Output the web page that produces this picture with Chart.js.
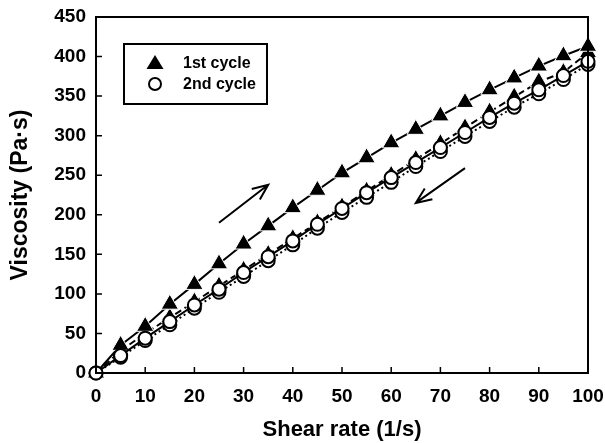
<!DOCTYPE html>
<html>
<head>
<meta charset="utf-8">
<script src="https://cdn.jsdelivr.net/npm/chart.js@4/dist/chart.umd.min.js"></script>
<style>
  html, body { margin: 0; padding: 0; background: #fff; }
  #wrap { width: 605px; height: 443px; }
</style>
</head>
<body>
<div id="wrap"><canvas id="plot" width="605" height="443"></canvas></div>
<script>
const shearRate = [0, 5, 10, 15, 20, 25, 30, 35, 40, 45, 50, 55, 60, 65, 70, 75, 80, 85, 90, 95, 100];
const cycle1Up = [0, 35, 59, 87, 112, 138, 163, 186, 209, 231, 253, 272, 291, 308, 325, 342, 358, 373, 388, 401, 413];
const cycle1Down = [0, 28, 50, 70, 90, 110, 130, 150, 170, 190, 210, 230, 250, 270, 290, 310, 330, 349, 368, 380, 405];
const cycle2Up = [0, 22, 44, 65, 86, 106, 127, 147, 167, 188, 208, 228, 247, 266, 285, 304, 323, 341, 358, 376, 394];
const cycle2Down = [0, 20, 41, 61, 82, 102, 122, 142, 162, 183, 203, 222, 241, 261, 280, 299, 318, 336, 353, 371, 390];

const xTicks = [0, 10, 20, 30, 40, 50, 60, 70, 80, 90, 100];
const yTicks = [0, 50, 100, 150, 200, 250, 300, 350, 400, 450];

const legendLabels = ["1st cycle", "2nd cycle"];
// arrows in data units: [x0, y0, x1, y1]
const arrows = [
  [25, 190, 35, 238],
  [75, 259, 65, 215],
];

const FONT = "'Liberation Sans', Arial, sans-serif";

function pts(ys) {
  return shearRate.map((x, i) => ({ x: x, y: ys[i] }));
}

const triangleStyle = {
  pointStyle: "triangle",
  pointRadius: 10,
  pointBackgroundColor: "#000",
  pointBorderColor: "#fff",
  pointBorderWidth: 1,
  borderColor: "#000",
  borderWidth: 2,
  order: 1,
};
const circleStyle = {
  pointStyle: "circle",
  pointRadius: 6.5,
  pointBackgroundColor: "#fff",
  pointBorderColor: "#000",
  pointBorderWidth: 2,
  borderColor: "#000",
  borderWidth: 2,
  order: 0,
};

const framePlugin = {
  id: "frame",
  afterDatasetsDraw(chart) {
    const ctx = chart.ctx;
    const a = chart.chartArea;
    const xs = chart.scales.x;
    const ys = chart.scales.y;
    ctx.save();
    ctx.strokeStyle = "#000";
    ctx.lineWidth = 2;
    ctx.strokeRect(a.left, a.top, a.right - a.left, a.bottom - a.top);

    // inward ticks
    ctx.lineWidth = 1.5;
    ctx.beginPath();
    xTicks.forEach((v) => {
      const px = xs.getPixelForValue(v);
      ctx.moveTo(px, a.bottom);
      ctx.lineTo(px, a.bottom - 6);
    });
    yTicks.forEach((v) => {
      const py = ys.getPixelForValue(v);
      ctx.moveTo(a.left, py);
      ctx.lineTo(a.left + 6, py);
    });
    ctx.stroke();

    // arrows
    ctx.lineWidth = 2;
    arrows.forEach(([x0, y0, x1, y1]) => {
      const p0 = [xs.getPixelForValue(x0), ys.getPixelForValue(y0)];
      const p1 = [xs.getPixelForValue(x1), ys.getPixelForValue(y1)];
      const ang = Math.atan2(p1[1] - p0[1], p1[0] - p0[0]);
      const h = 17;
      ctx.beginPath();
      ctx.moveTo(p0[0], p0[1]);
      ctx.lineTo(p1[0], p1[1]);
      ctx.moveTo(p1[0] - h * Math.cos(ang - 0.4), p1[1] - h * Math.sin(ang - 0.4));
      ctx.lineTo(p1[0], p1[1]);
      ctx.lineTo(p1[0] - h * Math.cos(ang + 0.4), p1[1] - h * Math.sin(ang + 0.4));
      ctx.stroke();
    });

    // legend box
    const bx = a.left + 28, by = a.top + 27, bw = 143, bh = 60;
    ctx.fillStyle = "#fff";
    ctx.fillRect(bx, by, bw, bh);
    ctx.lineWidth = 2;
    ctx.strokeRect(bx, by, bw, bh);
    const mx = bx + 31;
    const rows = [by + 19, by + 40];
    // triangle
    ctx.fillStyle = "#000";
    ctx.beginPath();
    ctx.moveTo(mx, rows[0] - 8);
    ctx.lineTo(mx + 8.5, rows[0] + 6);
    ctx.lineTo(mx - 8.5, rows[0] + 6);
    ctx.closePath();
    ctx.fill();
    // circle
    ctx.fillStyle = "#fff";
    ctx.beginPath();
    ctx.arc(mx, rows[1], 6, 0, Math.PI * 2);
    ctx.fill();
    ctx.stroke();
    ctx.fillStyle = "#000";
    ctx.font = "bold 16px " + FONT;
    ctx.textBaseline = "middle";
    ctx.textAlign = "left";
    legendLabels.forEach((t, i) => ctx.fillText(t, bx + 59, rows[i] + 1));
    ctx.restore();
  },
};

new Chart(document.getElementById("plot"), {
  type: "line",
  data: {
    datasets: [
      { label: "1st cycle (up)", data: pts(cycle1Up), ...triangleStyle },
      { label: "1st cycle (down)", data: pts(cycle1Down), ...triangleStyle, borderDash: [7, 4] },
      { label: "2nd cycle (up)", data: pts(cycle2Up), ...circleStyle },
      { label: "2nd cycle (down)", data: pts(cycle2Down), ...circleStyle, borderDash: [2, 3] },
    ],
  },
  options: {
    responsive: false,
    animation: false,
    clip: false,
    layout: { padding: { top: 17, right: 17, left: 0, bottom: 0 } },
    plugins: {
      legend: { display: false },
      tooltip: { enabled: false },
    },
    scales: {
      x: {
        type: "linear",
        min: 0,
        max: 100,
        afterBuildTicks: (s) => { s.ticks = xTicks.map((v) => ({ value: v })); },
        afterFit: (s) => { s.height = 70; s.paddingLeft = 0; s.paddingRight = 0; },
        grid: { display: false, drawTicks: false },
        border: { display: false },
        ticks: { color: "#000", padding: 12, font: { family: FONT, size: 19, weight: "bold" } },
        title: {
          display: true,
          text: "Shear rate (1/s)",
          color: "#000",
          padding: { top: 8, bottom: 0 },
          font: { family: FONT, size: 22, weight: "bold" },
        },
      },
      y: {
        type: "linear",
        min: 0,
        max: 450,
        afterBuildTicks: (s) => { s.ticks = yTicks.map((v) => ({ value: v })); },
        afterFit: (s) => { s.width = 96; s.paddingTop = 0; s.paddingBottom = 0; },
        grid: { display: false, drawTicks: false },
        border: { display: false },
        ticks: { color: "#000", padding: 10, font: { family: FONT, size: 19, weight: "bold" } },
        title: {
          display: true,
          text: "Viscosity (Pa·s)",
          color: "#000",
          padding: { top: 7, bottom: 4 },
          font: { family: FONT, size: 23, weight: "bold" },
        },
      },
    },
  },
  plugins: [framePlugin],
});
</script>
</body>
</html>
